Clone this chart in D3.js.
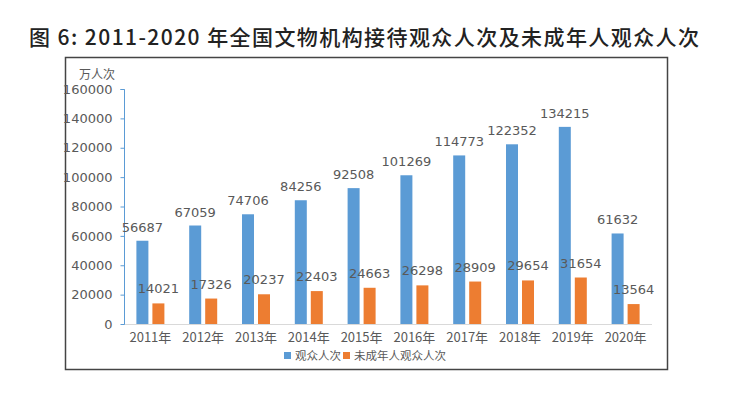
<!DOCTYPE html>
<html>
<head>
<meta charset="utf-8">
<script src="https://cdn.jsdelivr.net/npm/d3@7"></script>
<style>
  body { margin: 0; background: #fff; }
  text { font-family: "Noto Sans CJK SC", "DejaVu Sans", sans-serif; }
</style>
</head>
<body>
<svg id="fig"></svg>
<script>
var years = ["2011年", "2012年", "2013年", "2014年", "2015年", "2016年", "2017年", "2018年", "2019年", "2020年"];
var visitors = [56687, 67059, 74706, 84256, 92508, 101269, 114773, 122352, 134215, 61632];
var minors = [14021, 17326, 20237, 22403, 24663, 26298, 28909, 29654, 31654, 13564];
var seriesNames = ["观众人次", "未成年人观众人次"];
var yTicks = [0, 20000, 40000, 60000, 80000, 100000, 120000, 140000, 160000];

var W = 738, H = 397;
var blue = "#5b9bd5", orange = "#ed7d31", grey = "#595959";

var svg = d3.select("#fig").attr("width", W).attr("height", H);

// title, stretched to the same width as the picture
svg.append("text")
  .attr("x", 29).attr("y", 45)
  .attr("textLength", 670).attr("lengthAdjust", "spacing")
  .style("font-size", "21px").style("font-weight", 500).style("fill", "#222")
  .text("图 6: 2011-2020 年全国文物机构接待观众人次及未成年人观众人次");

// outer frame
svg.append("rect")
  .attr("x", 65.5).attr("y", 57.5).attr("width", 602).attr("height", 312)
  .attr("fill", "none").attr("stroke", "#444").attr("stroke-width", 1.5);

var x = d3.scaleBand().domain(years).range([124, 652]);
var y = d3.scaleLinear().domain([0, 160000]).range([324, 89]);

// x axis line
svg.append("line")
  .attr("x1", 124).attr("x2", 652).attr("y1", y(0) + 0.5).attr("y2", y(0) + 0.5)
  .attr("stroke", "#d9d9d9");

// y axis
var yAxis = svg.append("g").attr("transform", "translate(124.5,0)")
  .call(d3.axisLeft(y).tickValues(yTicks).tickSize(4).tickPadding(8).tickFormat(d3.format("d")));
yAxis.select(".domain").attr("stroke", blue).attr("d", "M-4," + (y(160000) + 0.5) + "H0V" + (y(0) + 0.5));
yAxis.selectAll(".tick line").attr("stroke", blue);
yAxis.selectAll("text").style("font-size", "13px").style("fill", grey).style("font-family", "'DejaVu Sans', sans-serif");

// x labels
svg.append("g").selectAll("text").data(years).enter().append("text")
  .attr("x", function(d) { return x(d) + x.bandwidth() / 2; })
  .attr("y", 342)
  .attr("text-anchor", "middle")
  .style("font-size", "13px").style("fill", grey)
  .text(function(d) { return d; });

// y unit
svg.append("text").attr("x", 97).attr("y", 79).attr("text-anchor", "middle")
  .style("font-size", "12px").style("fill", grey).text("万人次");

var bw = 12, gap = 4;

function drawSeries(vals, color, dx, dy) {
  var g = svg.append("g");
  g.selectAll("rect").data(vals).enter().append("rect")
    .attr("x", function(d, i) { return x(years[i]) + x.bandwidth() / 2 + dx; })
    .attr("y", function(d) { return y(d); })
    .attr("width", bw)
    .attr("height", function(d) { return y(0) - y(d); })
    .attr("fill", color);
  g.selectAll("text").data(vals).enter().append("text")
    .attr("x", function(d, i) { return x(years[i]) + x.bandwidth() / 2 + dx + bw / 2; })
    .attr("y", function(d) { return y(d) - dy; })
    .attr("text-anchor", "middle")
    .style("font-size", "13px").style("fill", grey).style("font-family", "'DejaVu Sans', sans-serif")
    .text(function(d) { return d; });
}
drawSeries(visitors, blue, -bw - gap / 2, 9);
drawSeries(minors, orange, gap / 2, 10);

// legend
var leg = svg.append("g").attr("transform", "translate(284,360)");
[[blue, seriesNames[0], 0], [orange, seriesNames[1], 59]].forEach(function(l) {
  leg.append("rect").attr("x", l[2]).attr("y", -8).attr("width", 7).attr("height", 7).attr("fill", l[0]);
  leg.append("text").attr("x", l[2] + 11).attr("y", 0).style("font-size", "11.5px").style("fill", grey).text(l[1]);
});
</script>
</body>
</html>
